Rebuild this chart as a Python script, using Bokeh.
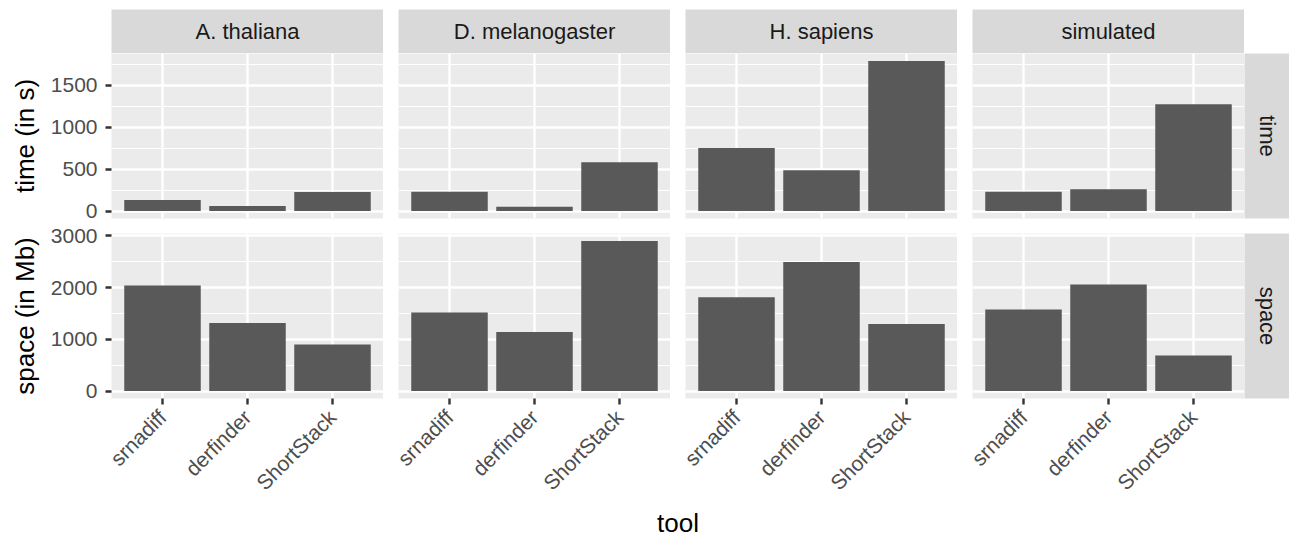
import math
from bokeh.plotting import figure
from bokeh.layouts import row, column
from bokeh.models import Range1d, FixedTicker
from bokeh.embed import file_html
from bokeh.resources import INLINE
from bokeh.core.properties import value

# ---------------- data ----------------
tools = ["srnadiff", "derfinder", "ShortStack"]
species = ["A. thaliana", "D. melanogaster", "H. sapiens", "simulated"]
metrics = ["time", "space"]
metric_titles = ["time (in s)", "space (in Mb)"]

time_a_thaliana = [131, 60, 226]
time_d_melanogaster = [230, 51, 580]
time_h_sapiens = [750, 484, 1786]
time_simulated = [230, 258, 1270]

space_a_thaliana = [2039, 1315, 897]
space_d_melanogaster = [1516, 1141, 2901]
space_h_sapiens = [1812, 2496, 1296]
space_simulated = [1574, 2058, 685]

time_ticks = [0, 500, 1000, 1500]
time_minor_ticks = [250, 750, 1250, 1750]
space_ticks = [0, 1000, 2000, 3000]
space_minor_ticks = [500, 1500, 2500]

time_values = [time_a_thaliana, time_d_melanogaster, time_h_sapiens, time_simulated]
space_values = [space_a_thaliana, space_d_melanogaster, space_h_sapiens, space_simulated]

# ---------------- layout / style ----------------
LEFT = 111
PW = 272
GAP = 15
GAP_A = 7          # part of the row gap kept under the time row
GAP_B = GAP - GAP_A  # part kept above the space row
TOP = 9
STRIP = 44
PH = 165
RSTRIP = 45
XAREA = 110
TOOLH = 538 - (TOP + STRIP) - (PH + GAP_A) - (GAP_B + PH + XAREA)

FONT = "Liberation Sans"
PANEL_BG = "#EBEBEB"
STRIP_BG = "#D9D9D9"
BAR = "#595959"
MAJOR_W = 2.4
MINOR_W = 1.2
TICK_FS = "21px"
STRIP_FS = "22px"
TITLE_FS = "26px"

x_positions = [i + 1 for i in range(len(tools))]


def yrange(vals):
    m = max(max(v) for v in vals)
    return Range1d(-0.05 * m, 1.05 * m)


row_data = [
    (time_values, yrange(time_values), time_ticks, time_minor_ticks),
    (space_values, yrange(space_values), space_ticks, space_minor_ticks),
]


def base_fig(width, height, xr, yr, xloc, yloc, bl, br, bt, bb):
    p = figure(width=width, height=height, x_range=xr, y_range=yr,
               x_axis_location=xloc, y_axis_location=yloc,
               output_backend="svg", toolbar_location=None, min_border=0)
    p.min_border_left = bl
    p.min_border_right = br
    p.min_border_top = bt
    p.min_border_bottom = bb
    p.outline_line_color = None
    p.border_fill_color = "white"
    return p


def panel(mi, ci):
    vals, yr, ticks, minor = row_data[mi]
    first = ci == 0
    bottom = mi == 1
    bl = LEFT if first else GAP
    bt = GAP_B if bottom else 0
    bb = XAREA if bottom else GAP_A
    p = base_fig(bl + PW, bt + PH + bb, Range1d(0.4, len(tools) + 0.6), yr,
                 "below" if bottom else None, "left" if first else None,
                 bl, 0, bt, bb)
    p.background_fill_color = PANEL_BG

    p.xgrid.ticker = FixedTicker(ticks=x_positions)
    p.xgrid.grid_line_color = "white"
    p.xgrid.grid_line_width = MAJOR_W
    p.ygrid.ticker = FixedTicker(ticks=ticks, minor_ticks=minor)
    p.ygrid.grid_line_color = "white"
    p.ygrid.grid_line_width = MAJOR_W
    p.ygrid.minor_grid_line_color = "white"
    p.ygrid.minor_grid_line_width = MINOR_W

    p.vbar(x=x_positions, top=vals[ci], width=0.9, bottom=0,
           fill_color=BAR, line_color=None)

    axes = []
    if first:
        ax = p.yaxis[0]
        ax.ticker = FixedTicker(ticks=ticks)
        ax.axis_label = metric_titles[mi]
        ax.major_label_standoff = 8
        axes.append(ax)
    if bottom:
        ax = p.xaxis[0]
        ax.ticker = FixedTicker(ticks=x_positions)
        ax.major_label_overrides = {x: t for x, t in zip(x_positions, tools)}
        ax.major_label_orientation = math.pi / 4
        ax.major_label_standoff = 9
        axes.append(ax)
    for ax in axes:
        ax.axis_line_color = None
        ax.major_tick_line_color = "#333333"
        ax.major_tick_line_width = MAJOR_W
        ax.major_tick_in = 0
        ax.major_tick_out = 6
        ax.minor_tick_line_color = None
        ax.major_label_text_font = FONT
        ax.major_label_text_font_size = TICK_FS
        ax.major_label_text_color = "#4D4D4D"
        ax.axis_label_text_font = FONT
        ax.axis_label_text_font_size = TITLE_FS
        ax.axis_label_text_font_style = "normal"
        ax.axis_label_text_color = "black"
        ax.axis_label_standoff = 8
    return p


def strip(label, width, height, bl, bt, bb, angle):
    s = base_fig(width, height, Range1d(0, 1), Range1d(0, 1), None, None,
                 bl, 0, bt, bb)
    s.background_fill_color = STRIP_BG
    s.grid.visible = False
    s.text(x=[0.5], y=[0.5], text=[label], angle=angle,
           text_align="center", text_baseline="middle",
           text_font=value(FONT), text_font_size=STRIP_FS, text_color="#1A1A1A")
    return s


top_strips = []
for ci, sp in enumerate(species):
    bl = LEFT if ci == 0 else GAP
    top_strips.append(strip(sp, bl + PW, TOP + STRIP, bl, TOP, 0, 0))

rows = [row(*top_strips)]
for mi, m in enumerate(metrics):
    panels = [panel(mi, ci) for ci in range(len(species))]
    bt = GAP_B if mi == 1 else 0
    bb = XAREA if mi == 1 else GAP_A
    panels.append(strip(m, RSTRIP, bt + PH + bb, 0, bt, bb, -math.pi / 2))
    rows.append(row(*panels))

total_w = LEFT + len(species) * PW + (len(species) - 1) * GAP + RSTRIP
tool_fig = base_fig(total_w, TOOLH, Range1d(0, total_w), Range1d(0, TOOLH),
                    None, None, 0, 0, 0, 0)
tool_fig.grid.visible = False
tool_fig.background_fill_color = "white"
tool_fig.text(x=[LEFT + (len(species) * PW + (len(species) - 1) * GAP) / 2],
              y=[TOOLH - 14], text=["tool"], text_align="center",
              text_baseline="middle", text_font=value(FONT),
              text_font_size=TITLE_FS, text_color="black")
rows.append(tool_fig)

layout = column(*rows)
open("out.html", "w").write(file_html(layout, INLINE))
